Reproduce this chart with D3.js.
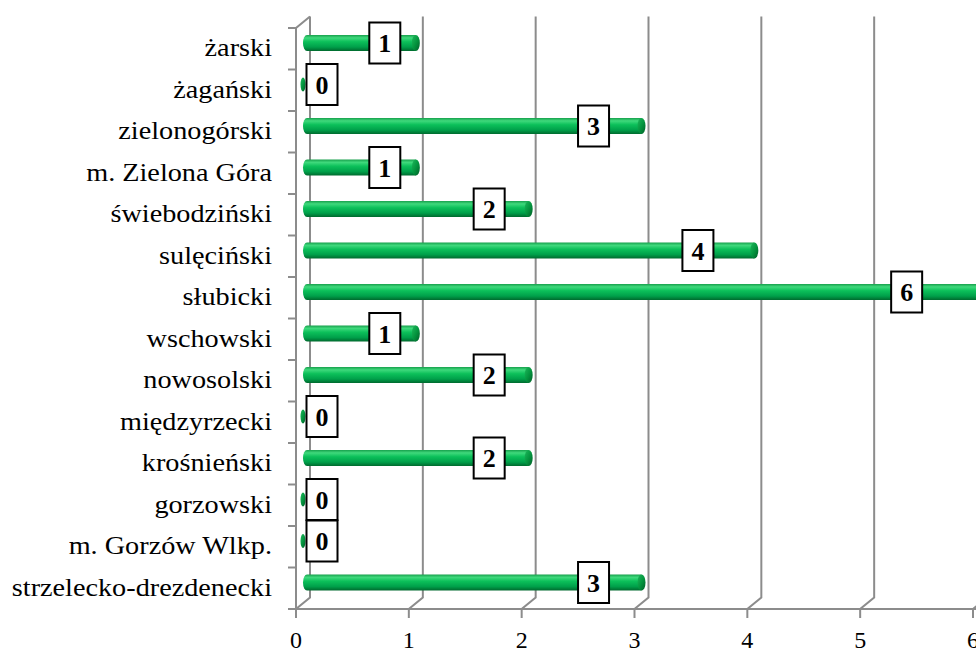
<!DOCTYPE html>
<html>
<head>
<meta charset="utf-8">
<script src="https://cdn.jsdelivr.net/npm/d3@7/dist/d3.min.js"></script>
<style>
  html, body { margin: 0; padding: 0; background: #fff; }
  svg { display: block; }
</style>
</head>
<body>
<svg id="chart" width="976" height="650"></svg>
<script>
// Powiaty, listed top to bottom
const categories = [
  "żarski", "żagański", "zielonogórski", "m. Zielona Góra", "świebodziński",
  "sulęciński", "słubicki", "wschowski", "nowosolski", "międzyrzecki",
  "krośnieński", "gorzowski", "m. Gorzów Wlkp.", "strzelecko-drezdenecki"
];
const values = [1, 0, 3, 1, 2, 4, 6, 1, 2, 0, 2, 0, 0, 3];
const tickValues = [0, 1, 2, 3, 4, 5, 6];

const svg = d3.select("#chart");
const W = 976, H = 650;

// front plane of the 3-D plot box
const plotLeft = 296, plotRight = 973, plotTop = 28, plotBottom = 609;
// depth of the box (back wall is shifted up and right)
const dx = 14, dy = -11.5;

const x = d3.scaleLinear().domain([0, 6]).range([plotLeft, plotRight]);
const y = d3.scaleBand().domain(categories).range([plotTop, plotBottom]).padding(0);

const grid = "#8c8c8c";
const serif = "'Liberation Serif', 'Times New Roman', serif";

// gradient for the cylinder bars
const defs = svg.append("defs");
const g1 = defs.append("linearGradient").attr("id", "barGrad")
  .attr("x1", 0).attr("y1", 0).attr("x2", 0).attr("y2", 1);
[[0, "#17a04c"], [0.18, "#3fd97c"], [0.42, "#0cc05a"], [0.75, "#00a04a"], [1, "#006a2e"]]
  .forEach(([o, c]) => g1.append("stop").attr("offset", o).attr("stop-color", c));
const g2 = defs.append("linearGradient").attr("id", "capGrad")
  .attr("x1", 0).attr("y1", 0).attr("x2", 1).attr("y2", 1);
[[0, "#1fb85c"], [0.5, "#04963f"], [1, "#005e28"]]
  .forEach(([o, c]) => g2.append("stop").attr("offset", o).attr("stop-color", c));

// back wall gridlines with their floor connectors and front ticks
const gl = svg.append("g").attr("stroke", grid).attr("stroke-width", 2).attr("fill", "none");
tickValues.forEach(t => {
  const xf = x(t), xb = x(t) + dx;
  gl.append("path")
    .attr("d", `M${xb},${plotTop + dy} L${xb},${plotBottom + dy} L${xf},${plotBottom} L${xf},${plotBottom + 9}`);
});
// floor front edge
gl.append("line").attr("x1", plotLeft).attr("x2", W).attr("y1", plotBottom).attr("y2", plotBottom);
// left wall front edge + top connector
gl.append("path").attr("d", `M${plotLeft + dx},${plotTop + dy} L${plotLeft},${plotTop} L${plotLeft},${plotBottom}`);
// category ticks on the left wall
const bounds = categories.map(c => y(c)).concat([plotBottom]);
bounds.forEach(b => {
  gl.append("line").attr("x1", plotLeft - 8).attr("x2", plotLeft).attr("y1", b).attr("y2", b);
});

// category labels (slightly widened serif, right-aligned against the axis)
const labelRight = plotLeft - 24;
svg.append("g")
  .attr("transform", `translate(${labelRight},0) scale(1.13,1)`)
  .selectAll("text").data(categories).join("text")
  .attr("x", 0)
  .attr("y", d => y(d) + y.bandwidth() / 2 - 1)
  .attr("dy", "0.35em")
  .attr("text-anchor", "end")
  .attr("font-family", serif)
  .attr("font-size", 25)
  .attr("fill", "#000")
  .text(d => d);

// x tick labels
svg.append("g").selectAll("text").data(tickValues).join("text")
  .attr("x", d => x(d))
  .attr("y", 648)
  .attr("text-anchor", "middle")
  .attr("font-family", serif)
  .attr("font-size", 24)
  .attr("fill", "#000")
  .text(d => d);

// bars sit halfway into the depth of the box
const bx = dx / 2, by = dy / 2, bh = 16;
const bars = svg.append("g");
categories.forEach((c, i) => {
  const v = values[i];
  const cy = y(c) + y.bandwidth() / 2 + by;
  const x0 = x(0) + bx, x1 = x(v) + bx;
  const g = bars.append("g");
  if (v > 0) {
    g.append("path")
      .attr("d", `M${x0 + 4},${cy - bh / 2} L${x1},${cy - bh / 2} L${x1},${cy + bh / 2} L${x0 + 4},${cy + bh / 2}
                  A4,${bh / 2} 0 0 1 ${x0 + 4},${cy - bh / 2} Z`)
      .attr("fill", "url(#barGrad)");
    g.append("ellipse").attr("cx", x1).attr("cy", cy).attr("rx", 4).attr("ry", bh / 2)
      .attr("fill", "url(#capGrad)");
  } else {
    g.append("ellipse").attr("cx", x0).attr("cy", cy).attr("rx", 2.5).attr("ry", 7)
      .attr("fill", "url(#capGrad)");
  }
});

// value labels in framed boxes, placed just inside the bar end
const labels = svg.append("g");
categories.forEach((c, i) => {
  const v = values[i];
  const cy = y(c) + y.bandwidth() / 2 + by;
  const lx = v > 0 ? x(0.925 * v - 0.2) + bx : x(0) + bx + 19;
  const g = labels.append("g").attr("transform", `translate(${lx},${cy})`);
  g.append("rect").attr("x", -15.5).attr("y", -20.5).attr("width", 31).attr("height", 41)
    .attr("fill", "#fff").attr("stroke", "#000").attr("stroke-width", 2);
  g.append("text").attr("text-anchor", "middle").attr("dy", "0.35em")
    .attr("font-family", serif).attr("font-weight", "bold").attr("font-size", 26)
    .attr("fill", "#000").text(v);
});
</script>
</body>
</html>
